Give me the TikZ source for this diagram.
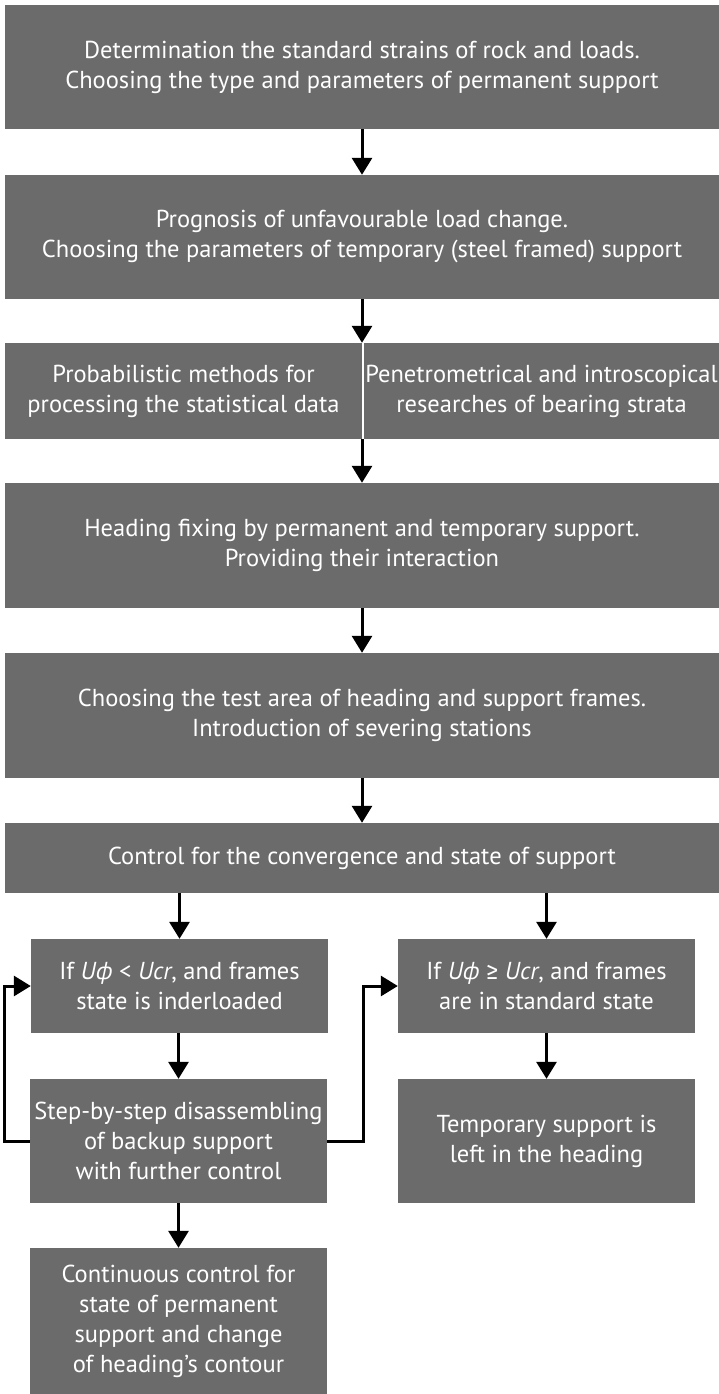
\documentclass[tikz,border=0pt]{standalone}
\usepackage{fontspec}
\setmainfont{PT Sans}
\newfontfamily\symf{Fira Sans}
\usetikzlibrary{arrows.meta}
\definecolor{boxgray}{RGB}{107,107,107}
\tikzset{
  box/.style={fill=boxgray, text=white, align=center, inner sep=0pt,
    font=\fontsize{24.5}{30}\selectfont},
  arr/.style={line width=3pt, -{Triangle[length=17pt,width=20pt]}},
  fb/.style={line width=3pt, -{Triangle[length=17pt,width=20pt]}}
}
\begin{document}
\begin{tikzpicture}[x=1pt,y=-1pt]
\useasboundingbox (0,0) rectangle (719,1394);
\node[box, minimum width=714pt, minimum height=124pt] (b1) at (362,67)
  {Determination the standard strains of rock and loads.\\Choosing the type and parameters of permanent support};
\node[box, minimum width=714pt, minimum height=124pt] (b2) at (362,237)
  {Prognosis of unfavourable load change.\\Choosing the parameters of temporary (steel framed) support};
\node[box, minimum width=357pt, minimum height=96pt] (b3L) at (183.5,391)
  {Probabilistic methods for\\processing the statistical data};
\node[box, minimum width=355pt, minimum height=96pt] (b3R) at (541.5,391)
  {Penetrometrical and introscopical\\researches of bearing strata};
\node[box, minimum width=714pt, minimum height=125pt] (b4) at (362,545.5)
  {Heading fixing by permanent and temporary support.\\Providing their interaction};
\node[box, minimum width=714pt, minimum height=125pt] (b5) at (362,715.5)
  {Choosing the test area of heading and support frames.\\Introduction of severing stations};
\node[box, minimum width=714pt, minimum height=70pt] (b6) at (362,858)
  {Control for the convergence and state of support};
\node[box, minimum width=297pt, minimum height=94pt] (b7L) at (179.5,986)
  {If \textit{Uф} < \textit{Ucr}, and frames\\state is inderloaded};
\node[box, minimum width=297pt, minimum height=94pt] (b7R) at (546.5,986)
  {If \textit{Uф} {\symf ≥} \textit{Ucr}, and frames\\are in standard state};
\node[box, minimum width=297pt, minimum height=124pt] (b8L) at (178.5,1141)
  {Step-by-step disassembling\\of backup support\\with further control};
\node[box, minimum width=297pt, minimum height=124pt] (b8R) at (546.5,1141)
  {Temporary support is\\left in the heading};
\node[box, minimum width=297pt, minimum height=146pt] (b9L) at (178.5,1321)
  {Continuous control for\\state of permanent\\support and change\\of heading’s contour};
\draw[arr] (b1.south) -- (b2.north);
\draw[arr] (b2.south) -- (b2.south |- b3L.north);
\draw[arr] (b2.south |- b3L.south) -- (b4.north);
\draw[arr] (b4.south) -- (b5.north);
\draw[arr] (b5.south) -- (b6.north);
\draw[arr] (b6.south -| b7L) -- (b7L.north);
\draw[arr] (b6.south -| b7R) -- (b7R.north);
\draw[arr] (b7L.south -| b8L) -- (b8L.north);
\draw[arr] (b7R.south -| b8R) -- (b8R.north);
\draw[arr] (b8L.south) -- (b9L.north);
\draw[fb] (b8L.west) -- ++(-25,0) |- (b7L.west);
\draw[fb] (b8L.east) -- ++(36,0) |- (b7R.west);
\end{tikzpicture}
\end{document}
